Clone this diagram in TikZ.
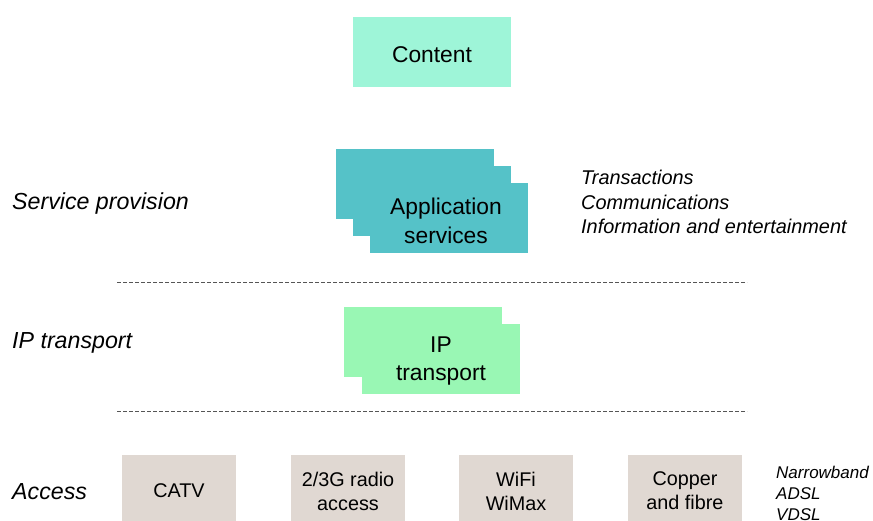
\documentclass[tikz,border=0pt]{standalone}
\usepackage{fontspec}
\setmainfont{Liberation Sans}
\definecolor{contentfill}{HTML}{9EF5D8}
\definecolor{appfill}{HTML}{55C2C8}
\definecolor{ipfill}{HTML}{99F7B4}
\definecolor{accessfill}{HTML}{E0D8D2}
\definecolor{rulegray}{HTML}{555555}
\begin{document}
\begin{tikzpicture}[x=1pt,y=-1pt,
  tile/.style={minimum width=158pt,minimum height=70pt,inner sep=0pt,outer sep=0pt,draw=none,align=center},
  bigtext/.style={inner sep=0pt,align=center,font=\fontsize{22.8}{28.5}\selectfont},
  accesstile/.style={tile,fill=accessfill,minimum width=114pt},
  accesstext/.style={inner sep=0pt,align=center,font=\fontsize{19.8}{24}\selectfont},
  layerlabel/.style={anchor=west,inner sep=0pt,font=\fontsize{23.2}{27}\selectfont\itshape},
  notes/.style={anchor=west,inner sep=0pt,align=left,font=\fontsize{19.9}{24.5}\selectfont\itshape},
  smallnotes/.style={anchor=west,inner sep=0pt,align=left,font=\fontsize{17}{21}\selectfont\itshape},
  separator/.style={draw=rulegray,line width=1pt,dash pattern=on 4pt off 2pt}]
\useasboundingbox (0,0) rectangle (873,520);

% content layer
\node[tile,fill=contentfill] (content) at (432,52) {};
\node[bigtext] (contentTxt) at ([yshift=-2.5pt]content.center) {Content};

% service provision: three stacked application boxes
\node[tile,fill=appfill] (app1) at (415,184) {};
\node[tile,fill=appfill] (app2) at (432,201) {};
\node[tile,fill=appfill] (app3) at (449,218) {};
\node[bigtext] (app3Txt) at ([xshift=-3pt,yshift=-3pt]app3.center) {Application\\services};

% IP transport: two stacked boxes
\node[tile,fill=ipfill] (ip1) at (423,341.5) {};
\node[tile,fill=ipfill] (ip2) at (441,359) {};
\node[bigtext] (ip2Txt) at ([yshift=-2pt]ip2.center) {IP\\transport};

% access technologies
\node[accesstile] (catv) at (179,490) {};
\node[accesstile] (radio) at (348,490) {};
\node[accesstile] (wifi) at (516,490) {};
\node[accesstile] (copper) at (685,490) {};
\node[accesstext] (catvTxt) at ([yshift=-1pt]catv.center) {CATV};
\node[accesstext] (radioTxt) at ([yshift=-1pt]radio.center) {2/3G radio\\access};
\node[accesstext] (wifiTxt) at ([yshift=-1pt]wifi.center) {WiFi\\WiMax};
\node[accesstext] (copperTxt) at ([yshift=-1pt]copper.center) {Copper\\and fibre};

% layer separators
\coordinate (sepAl) at (117,282);
\coordinate (sepAr) at (747,282);
\coordinate (sepBl) at (117,411);
\coordinate (sepBr) at (747,411);
\draw[separator] (sepAl) -- (sepAr);
\draw[separator] (sepBl) -- (sepBr);

% layer names
\node[layerlabel] (lservice) at (12,203) {Service provision};
\node[layerlabel] (lip) at (12,343) {IP transport};
\node[layerlabel] (laccess) at (12,492) {Access};

% side notes
\node[notes] (appnotes) at (581,202) {Transactions\\Communications\\Information and entertainment};
\node[smallnotes] (copnotes) at (776,493) {Narrowband\\ADSL\\VDSL};
\end{tikzpicture}
\end{document}
